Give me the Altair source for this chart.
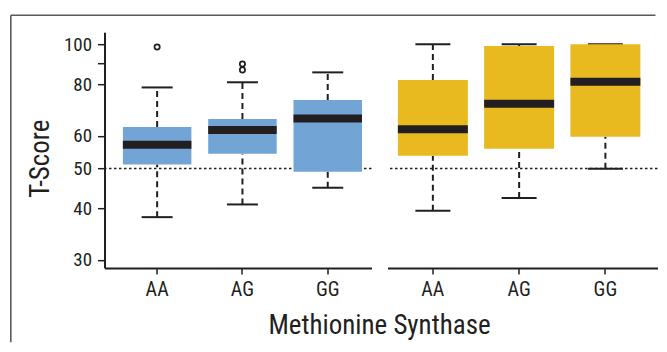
import altair as alt
import pandas as pd

genotypes = ["AA", "AG", "GG"]

# Left panel (blue boxes)
blue_min = [38.1, 40.9, 44.9]
blue_q1 = [51.1, 54.3, 49.1]
blue_median = [57.1, 62.0, 66.1]
blue_q3 = [63.0, 65.9, 73.3]
blue_max = [78.6, 80.9, 85.5]
blue_outlier_genotype = ["AA", "AG", "AG"]
blue_outlier_value = [98.5, 89.6, 86.7]

# Right panel (gold boxes)
gold_min = [39.5, 42.4, 49.9]
gold_q1 = [53.7, 55.8, 59.7]
gold_median = [62.2, 71.8, 81.1]
gold_q3 = [81.9, 99.0, 100.0]
gold_max = [100.0, 100.0, 100.0]
gold_outlier_genotype = []
gold_outlier_value = []

y_ticks = [30, 40, 50, 60, 80, 90, 100]
y_domain = [28.7, 107]
reference_value = [50]

INK = "#231f20"
FONT = "Roboto Condensed, Liberation Sans Narrow, Roboto, sans-serif"


def panel(mins, q1s, meds, q3s, maxs, out_g, out_v, color, width,
          box_w, cap_w, align, show_y, frame):
    df = pd.DataFrame({"genotype": genotypes, "min": mins, "q1": q1s,
                       "median": meds, "q3": q3s, "max": maxs})
    out = pd.DataFrame({"genotype": out_g, "value": out_v})
    ref = pd.DataFrame({"v": reference_value})

    yscale = alt.Scale(type="log", domain=y_domain, nice=False)
    if show_y:
        yaxis = alt.Axis(title="T-Score", values=y_ticks, format="d",
                         labelExpr="datum.value == 90 ? '' : datum.label",
                         tickSize=7, labelPadding=6, labelFontSize=19,
                         titleFontSize=27, titleFontWeight="normal",
                         titleX=-56, titleY=126, titleAngle=-90,
                         titleAlign="center", titleBaseline="alphabetic",
                         grid=False)
        xaxis = alt.Axis(title="Methionine Synthase", labelAngle=0, tickSize=6,
                         labelPadding=6, labelFontSize=20, grid=False,
                         titleFontSize=27, titleFontWeight="normal",
                         titleX=274.5, titleY=45, titleAlign="center",
                         titleBaseline="top")
    else:
        yaxis = None
        xaxis = alt.Axis(title=None, labelAngle=0, tickSize=6,
                         labelPadding=6, labelFontSize=20, grid=False)

    def Y(field):
        return alt.Y(field, type="quantitative", scale=yscale, axis=yaxis)

    x = alt.X("genotype:N", sort=genotypes,
              scale=alt.Scale(paddingInner=0, paddingOuter=0.065, align=align),
              axis=xaxis)

    base = alt.Chart(df)
    layers = []
    layers.append(alt.Chart(ref).mark_rule(color=INK, strokeWidth=1.5,
                                           strokeDash=[2.5, 2.5]).encode(y=Y("v")))
    layers.append(base.mark_rule(color=INK, strokeWidth=2, strokeDash=[6, 4])
                  .encode(x=x, y=Y("q3"), y2="max"))
    layers.append(base.mark_rule(color=INK, strokeWidth=2, strokeDash=[6, 4])
                  .encode(x=x, y=Y("min"), y2="q1"))
    layers.append(base.mark_tick(color=INK, size=cap_w, thickness=2, opacity=1)
                  .encode(x=x, y=Y("max")))
    layers.append(base.mark_tick(color=INK, size=cap_w, thickness=2, opacity=1)
                  .encode(x=x, y=Y("min")))
    layers.append(base.mark_bar(color=color, width=box_w)
                  .encode(x=x, y=Y("q1"), y2="q3"))
    layers.append(base.mark_tick(color=INK, size=box_w, thickness=8, opacity=1)
                  .encode(x=x, y=Y("median")))
    if len(out):
        layers.append(alt.Chart(out).mark_point(filled=False, size=28, strokeWidth=1.7,
                                                color=INK, opacity=1)
                      .encode(x=x, y=Y("value")))
    if frame:
        fr = pd.DataFrame({"f": [0]})
        layers.append(alt.Chart(fr).mark_rule(color="#5a5a5a", strokeWidth=1.6)
                      .encode(x=alt.value(-93.7), x2=alt.value(551), y=alt.value(-17)))
        layers.append(alt.Chart(fr).mark_rule(color="#5a5a5a", strokeWidth=1.6)
                      .encode(x=alt.value(-93.7), y=alt.value(-17), y2=alt.value(310)))
    return alt.layer(*layers).properties(width=width, height=235.7)


left = panel(blue_min, blue_q1, blue_median, blue_q3, blue_max,
             blue_outlier_genotype, blue_outlier_value, "#72a5d6",
             267, 68.5, 31, 0.9, True, True)
right = panel(gold_min, gold_q1, gold_median, gold_q3, gold_max,
              gold_outlier_genotype, gold_outlier_value, "#e8ba20",
              270, 70, 35, 0.2, False, False)

chart = alt.hconcat(left, right, spacing=16, bounds="flush").properties(
    padding={"left": 1.5, "top": 6.2, "right": 0, "bottom": 4},
).configure_axis(
    domainColor=INK, domainWidth=2, tickColor=INK, tickWidth=1.5,
    labelColor=INK, titleColor=INK, labelFont=FONT, titleFont=FONT,
).configure_view(stroke=None)

chart.save("out.html", embed_options={"renderer": "svg", "actions": False})
